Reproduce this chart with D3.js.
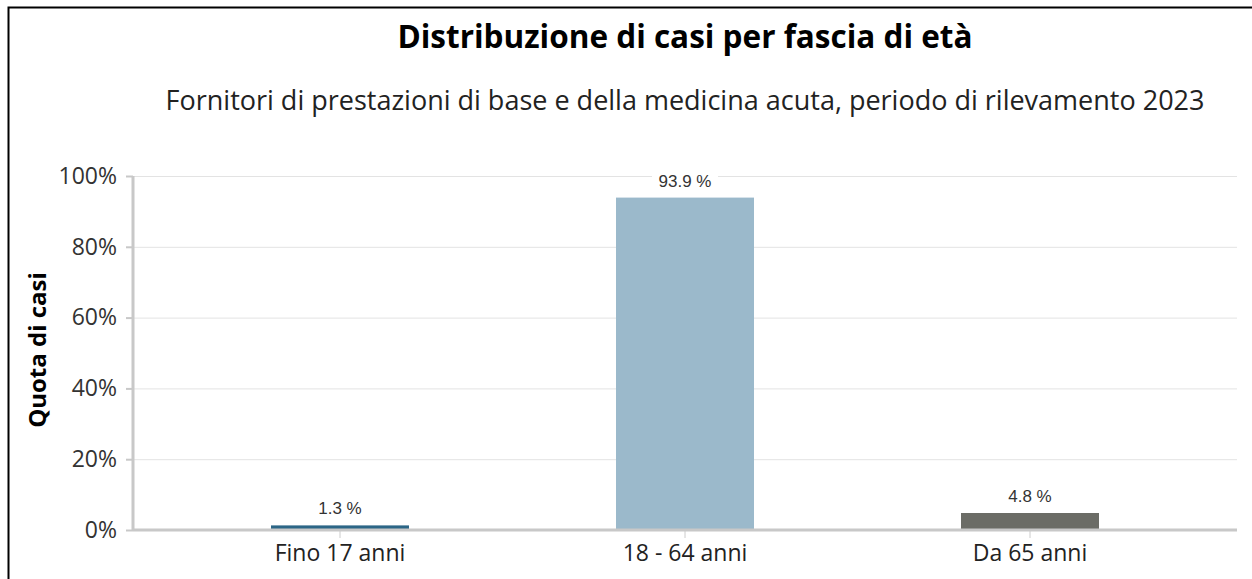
<!DOCTYPE html>
<html>
<head>
<meta charset="utf-8">
<script src="https://cdn.jsdelivr.net/npm/d3@7"></script>
<style>
  body { margin: 0; background: #fff; }
  svg { display: block; font-family: "Open Sans", sans-serif; }
</style>
</head>
<body>
<svg width="1252" height="579"></svg>
<script>
var categories = ["Fino 17 anni", "18 - 64 anni", "Da 65 anni"];
var values = [1.3, 93.9, 4.8];
var colors = ["#2c6686", "#9bb9cb", "#6b6c66"];
var yTicks = [0, 20, 40, 60, 80, 100];

var svg = d3.select("svg"),
    margin = {top: 176, right: 15, bottom: 49, left: 133},
    width = +svg.attr("width") - margin.left - margin.right,
    height = +svg.attr("height") - margin.top - margin.bottom;

// outer frame
svg.append("rect")
    .attr("x", 8.5).attr("y", 7.5)
    .attr("width", 1300).attr("height", 700)
    .attr("fill", "none").attr("stroke", "#000").attr("stroke-width", 2);

var cx = margin.left + width / 2;

svg.append("text")
    .attr("x", cx).attr("y", 48)
    .attr("text-anchor", "middle")
    .style("font-size", "31.5px").style("font-weight", "bold").style("fill", "#000")
    .text("Distribuzione di casi per fascia di età");

svg.append("text")
    .attr("x", cx).attr("y", 110)
    .attr("text-anchor", "middle")
    .style("font-size", "27px").style("fill", "#222")
    .text("Fornitori di prestazioni di base e della medicina acuta, periodo di rilevamento 2023");

svg.append("text")
    .attr("transform", "translate(46," + (margin.top + height / 2 - 3) + ") rotate(-90)")
    .attr("text-anchor", "middle")
    .style("font-size", "24px").style("font-weight", "bold").style("fill", "#000")
    .text("Quota di casi");

var g = svg.append("g").attr("transform", "translate(" + margin.left + "," + margin.top + ")");

var x = d3.scaleBand().domain(categories).range([0, width]).paddingInner(0.6).paddingOuter(0.4),
    y = d3.scaleLinear().domain([0, 100]).range([height, 0]);

// gridlines
g.append("g").selectAll("line")
  .data(yTicks.filter(function(d) { return d > 0; }))
  .enter().append("line")
    .attr("x1", 0).attr("x2", width)
    .attr("y1", function(d) { return y(d) + 0.5; })
    .attr("y2", function(d) { return y(d) + 0.5; })
    .style("stroke", "#e3e3e3");

var yAxis = g.append("g")
    .call(d3.axisLeft(y).tickValues(yTicks).tickSize(7).tickPadding(9).tickFormat(function(d) { return d + "%"; }));
yAxis.select(".domain").remove();
yAxis.selectAll(".tick line").style("stroke", "#c8c8c8").style("stroke-width", 2);
yAxis.selectAll("text").style("font-size", "23px").style("fill", "#333").style("font-family", "'Open Sans', sans-serif");

g.append("line")
    .attr("x1", 0).attr("x2", 0).attr("y1", 0).attr("y2", height + 1)
    .style("stroke", "#c8c8c8").style("stroke-width", 3);

// bars
g.selectAll(".bar")
  .data(values)
  .enter().append("rect")
    .attr("class", "bar")
    .attr("x", function(d, i) { return x(categories[i]); })
    .attr("width", x.bandwidth())
    .attr("y", function(d) { return y(d); })
    .attr("height", function(d) { return height - y(d); })
    .style("fill", function(d, i) { return colors[i]; });

var xAxis = g.append("g")
    .attr("transform", "translate(0," + height + ")")
    .call(d3.axisBottom(x).tickSize(8).tickPadding(7));
xAxis.select(".domain").remove();
xAxis.selectAll(".tick line").style("stroke", "#ccc");
xAxis.selectAll("text").style("font-size", "23px").style("fill", "#222").style("font-family", "'Open Sans', sans-serif");

g.append("line")
    .attr("x1", 0).attr("x2", width).attr("y1", height).attr("y2", height)
    .style("stroke", "#c8c8c8").style("stroke-width", 3);

// value labels
var lbl = g.selectAll(".lbl")
  .data(values)
  .enter().append("g")
    .attr("class", "lbl")
    .attr("transform", function(d, i) { return "translate(" + (x(categories[i]) + x.bandwidth() / 2) + "," + (y(d) - 11) + ")"; });

lbl.append("rect")
    .attr("x", -33).attr("y", -18).attr("width", 66).attr("height", 24).attr("rx", 6)
    .style("fill", "#fff");

lbl.append("text")
    .attr("text-anchor", "middle")
    .style("font-family", "'Liberation Sans', Arial, sans-serif")
    .style("font-size", "17px").style("fill", "#333")
    .text(function(d) { return d3.format(".1f")(d) + " %"; });
</script>
</body>
</html>
